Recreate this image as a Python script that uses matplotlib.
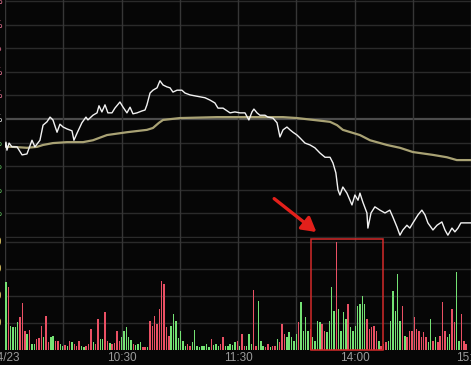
import matplotlib
matplotlib.use("Agg")
import matplotlib.pyplot as plt
from matplotlib.patches import Rectangle
import numpy as np

# price line: minutes from open, % change vs previous close
price_t = [0, 0.5, 1.0, 2.1, 3.6, 6.2, 8.8, 11.3, 13.9, 15.4, 18.0, 19.6, 21.6, 23.2, 24.7,
           26.8, 28.3, 29.9, 31.9, 34.5, 35.5, 37.1, 39.6, 41.7, 42.7, 45.3, 47.4, 48.4, 49.9,
           51.5, 53.0, 55.1, 56.6, 59.2, 60.8, 62.8, 64.4, 65.9, 68.0, 70.5, 72.1, 73.1, 74.7,
           76.2, 78.3, 79.8, 81.4, 83.4, 85.0, 86.5, 88.6, 91.1, 92.7, 95.3, 97.8, 100.4, 103.0,
           105.6, 108.1, 109.7, 112.3, 115.9, 118.4, 121.0, 123.6, 125.6, 127.2, 128.2, 129.8,
           131.3, 133.9, 135.4, 138.0, 140.1, 141.6, 143.2, 145.2, 146.8, 148.3, 150.4, 151.9,
           154.5, 157.1, 159.6, 162.2, 164.8, 167.4, 168.9, 170.4, 171.5, 172.5, 174.0, 176.1,
           178.7, 180.2, 181.8, 182.8, 184.3, 186.4, 186.9, 188.5, 190.5, 193.1, 195.7, 198.2,
           199.8, 201.9, 203.4, 204.9, 207.0, 208.5, 210.1, 212.7, 214.7, 216.3, 217.8, 220.4,
           222.5, 225.0, 226.6, 228.1, 230.2, 231.7, 233.3, 234.8, 236.9, 240.0]
price = [-0.59, -0.49, -0.66, -0.51, -0.59, -0.59, -0.76, -0.74, -0.45, -0.59, -0.45, -0.13,
         -0.06, 0.04, -0.02, -0.28, -0.11, -0.17, -0.21, -0.25, -0.45, -0.30, -0.08, 0.04, -0.02,
         0.08, 0.13, 0.28, 0.15, 0.30, 0.13, 0.13, 0.23, 0.36, 0.25, 0.13, 0.25, 0.11, 0.13,
         0.17, 0.19, 0.30, 0.55, 0.61, 0.66, 0.81, 0.72, 0.68, 0.66, 0.57, 0.61, 0.61, 0.55,
         0.51, 0.49, 0.47, 0.45, 0.40, 0.34, 0.23, 0.23, 0.13, 0.15, 0.13, 0.13, -0.02, 0.15,
         0.21, 0.13, 0.08, 0.08, 0.04, 0.02, -0.08, -0.38, -0.23, -0.17, -0.23, -0.28, -0.34,
         -0.40, -0.51, -0.55, -0.61, -0.72, -0.81, -0.81, -0.93, -1.14, -1.50, -1.61, -1.44,
         -1.57, -1.82, -1.61, -1.72, -1.57, -1.76, -1.99, -2.31, -1.99, -1.86, -1.93, -1.99,
         -1.93, -2.08, -2.29, -2.46, -2.35, -2.25, -2.31, -2.20, -2.03, -1.93, -2.03, -2.20,
         -2.35, -2.25, -2.18, -2.35, -2.46, -2.31, -2.39, -2.31, -2.20, -2.20, -2.20]

# average price line
avg_t = [0, 4.1, 11.3, 16.5, 19.6, 24.7, 31.9, 40.2, 45.3, 52.5, 62.8, 73.1, 76.2, 79.3, 81.4,
         90.1, 109.2, 126.2, 143.2, 150.4, 167.4, 171.0, 174.0, 182.8, 188.0, 196.7, 203.4,
         210.1, 220.4, 227.6, 232.7, 240]
avg = [-0.59, -0.59, -0.61, -0.59, -0.55, -0.51, -0.49, -0.49, -0.45, -0.34, -0.28, -0.23,
       -0.19, -0.08, -0.02, 0.02, 0.04, 0.04, 0.04, 0.02, -0.06, -0.13, -0.23, -0.34, -0.45,
       -0.55, -0.61, -0.70, -0.76, -0.81, -0.87, -0.87]

# volume bars (in order through the session) and direction
vol = [68, 63, 24, 23, 23, 28, 33, 47, 19, 16, 20, 6, 6, 11, 12, 24, 13, 34, 8, 13, 14, 9, 9, 6,
       4, 5, 4, 9, 8, 6, 4, 9, 4, 3, 4, 6, 21, 8, 6, 31, 11, 11, 38, 9, 7, 6, 7, 19, 9, 13, 19,
       23, 13, 10, 6, 5, 6, 8, 3, 3, 3, 29, 24, 34, 26, 41, 69,
       66, 23, 14, 24, 36, 29, 12, 19, 9, 4, 6, 4, 8,
       20, 4, 3, 4, 4, 6, 3, 11, 5, 6, 4, 6, 13, 4, 4, 6, 5, 8, 9, 4, 16, 4,
       4, 16, 6, 60, 4, 49, 9, 4, 3, 6, 3, 4, 4, 11, 8, 26, 16, 13, 18, 13, 9, 16, 28, 48, 19, 33,
       19, 21, 13, 9, 29, 28, 26, 19, 18, 29, 63, 39, 108, 41, 19, 38, 31, 46, 23, 19, 24, 44,
       46, 54, 46, 31, 21, 23, 24, 19, 9, 4, 6, 8, 9, 29, 59, 39, 76, 29, 44, 14, 13, 19, 19,
       33, 21, 19, 13, 18, 13, 8, 31, 9, 13, 8, 14, 48, 19, 13, 16, 41, 28, 78, 9, 36, 9, 6]
vol_dir = ("grggggrrrgrggrrrgrrggrrggrgrgrrrggrrrgrrggrrgrrrrgggggrgggrrgrrrrrr"
           "rrrgggggggrrg"
           "gggggggrgggrrgggggrgrrg"
           "ggrrgggrrgrrgrrrgggggrgg"
           "ggrggggrrggggrggggrgggggggrrrrrgrrrggggggrgrrrrrrrrrggrgrrrrggrrggrrrgrr")

xtick_pos = [0, 60, 120, 180, 240]
xtick_lab = ["04/23", "10:30", "11:30", "14:00", "15:00"]
price_grid = np.arange(-2.5, 2.51, 0.5)
vol_grid = [27, 54, 81, 108]

W, H = 471, 365
BG = "#060606"
RED = "#ea5064"
GREEN = "#74e274"

fig = plt.figure(figsize=(W / 100, H / 100), dpi=100, facecolor=BG)


def px_axes(x0, y0, x1, y1):
    a = fig.add_axes([x0 / W, 1 - y1 / H, (x1 - x0) / W, (y1 - y0) / H])
    a.set_facecolor(BG)
    for s in a.spines.values():
        s.set_visible(False)
    return a


ax = px_axes(5, 0, 471, 238)
axv = px_axes(5, 238, 471, 350)

# grid
for v in price_grid:
    ax.axhline(v, color="#4c4c4c" if abs(v) < 1e-9 else "#2a2a2a",
               lw=1.6 if abs(v) < 1e-9 else 1.0, zorder=0)
for v in vol_grid:
    axv.axhline(v, color="#2a2a2a", lw=1.0, zorder=0)
for a in (ax, axv):
    for m in range(0, 241, 30):
        a.axvline(m, color="#363636", lw=1.0, zorder=0)
    a.set_xlim(0, 240)

ax.plot(avg_t, avg, color="#a9a274", lw=1.6, zorder=2)
ax.plot(price_t, price, color="#f2f2f2", lw=1.0, zorder=3)
ax.set_ylim(-2.52, 2.52)
ax.set_xticks([])
ax.set_yticks([])

bar_t = np.linspace(0.5, 237.5, len(vol))
bar_c = [RED if c == "r" else GREEN for c in vol_dir[:len(vol)]]
axv.bar(bar_t, vol, width=0.75, color=bar_c, linewidth=0, zorder=2)
axv.set_ylim(0, 112)
axv.set_yticks([])
axv.set_xticks(xtick_pos)
axv.set_xticklabels(xtick_lab)
axv.tick_params(axis="x", length=0, pad=1.5, labelsize=8.5, labelcolor="#9a9a9a")
for lab in axv.get_xticklabels():
    lab.set_fontfamily("Liberation Sans")

# highlight box and arrow
axv.add_patch(Rectangle((157.6, 0), 37, 111, fill=False, ec="#d42a2a", lw=1.1,
                        clip_on=False, zorder=4))
ax.annotate("", xy=(161.5, -2.43), xytext=(137.5, -1.65),
            arrowprops=dict(arrowstyle="-|>,head_length=0.7,head_width=0.4",
                            color="#e3201b", lw=2.4, mutation_scale=12),
            annotation_clip=False, zorder=5)

# clipped left-hand axis labels
for v in price_grid[::-1][:10]:
    y = 119 - v / 0.02119
    col = "#e07090" if v > 0.01 else ("#dddddd" if abs(v) < 0.01 else "#60c060")
    fig.text(3 / W, 1 - y / H, f"{v:.2f}%", ha="right", va="center", fontsize=7, color=col)
for v in vol_grid:
    fig.text(3 / W, 1 - (350 - v) / H, "1200", ha="right", va="center", fontsize=7,
             color="#d8c060")

fig.savefig("out.png", dpi=100, facecolor=BG)
